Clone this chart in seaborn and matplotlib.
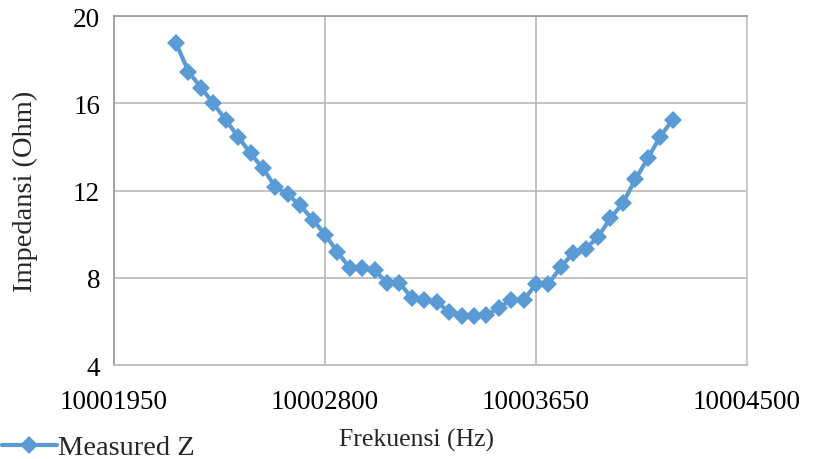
import matplotlib
matplotlib.use("Agg")
import matplotlib.pyplot as plt
import seaborn as sns
import pandas as pd

# Measured impedance sweep around resonance
frequency_hz = list(range(10002200, 10004201, 50))
impedance_ohm = [
    18.75, 17.45, 16.72, 16.00, 15.23, 14.47, 13.70, 13.01, 12.17, 11.82,
    11.32, 10.67, 9.98, 9.18, 8.45, 8.44, 8.35, 7.76, 7.76, 7.07,
    6.99, 6.91, 6.42, 6.27, 6.27, 6.30, 6.61, 7.00, 6.96, 7.72,
    7.72, 8.49, 9.15, 9.33, 9.87, 10.74, 11.42, 12.51, 13.47, 14.47,
    15.23,
]
x_ticks = [10001950, 10002800, 10003650, 10004500]
y_ticks = [4, 8, 12, 16, 20]
series_name = "Measured Z"

df = pd.DataFrame({"Frekuensi": frequency_hz, "Impedansi": impedance_ohm})

sns.set_style("white")
plt.rcParams["font.family"] = ["Liberation Serif", "DejaVu Serif"]

fig = plt.figure(figsize=(8.18, 4.60), dpi=100)
ax = fig.add_axes([0.1394, 0.2043, 0.7738, 0.7587])

blue = "#5B9BD5"
sns.lineplot(data=df, x="Frekuensi", y="Impedansi", ax=ax, color=blue,
             linewidth=3.0, marker="D", markersize=9.5, markeredgewidth=0,
             markerfacecolor=blue, label=series_name, legend=False)

ax.set_xlim(x_ticks[0], x_ticks[-1])
ax.set_ylim(y_ticks[0], y_ticks[-1])
ax.set_xticks(x_ticks)
ax.set_xticklabels([str(t) for t in x_ticks])
ax.set_yticks(y_ticks)

grid_c = "#BDBDBD"
ax.grid(True, color=grid_c, linewidth=1.3)
ax.set_axisbelow(True)
for side in ["left", "bottom", "top", "right"]:
    ax.spines[side].set_visible(True)
    ax.spines[side].set_linewidth(1.3)
ax.spines["left"].set_color("#9E9E9E")
ax.spines["bottom"].set_color("#BDBDBD")
ax.spines["top"].set_color("#9E9E9E")
ax.spines["right"].set_color("#C8C8C8")

ax.tick_params(axis="both", direction="out", length=5, width=1.0,
               color="#9E9E9E", labelsize=19.5, labelcolor="black")
ax.tick_params(axis="x", pad=12)
ax.tick_params(axis="y", pad=5)

ax.set_xlabel("")
ax.set_ylabel("")
fig.text(0.031, 0.583, "Impedansi (Ohm)", rotation=90, ha="center",
         va="center", fontsize=20.5)
fig.text(0.509, 0.043, "Frekuensi (Hz)", ha="center", va="center",
         fontsize=18.5)

handles, labels = ax.get_legend_handles_labels()
fig.legend(handles, labels, loc="lower left", bbox_to_anchor=(-0.012, -0.028),
           frameon=False, fontsize=20.5, handlelength=1.95, handletextpad=0.02,
           borderaxespad=0.0)

fig.savefig("out.png", dpi=100)
